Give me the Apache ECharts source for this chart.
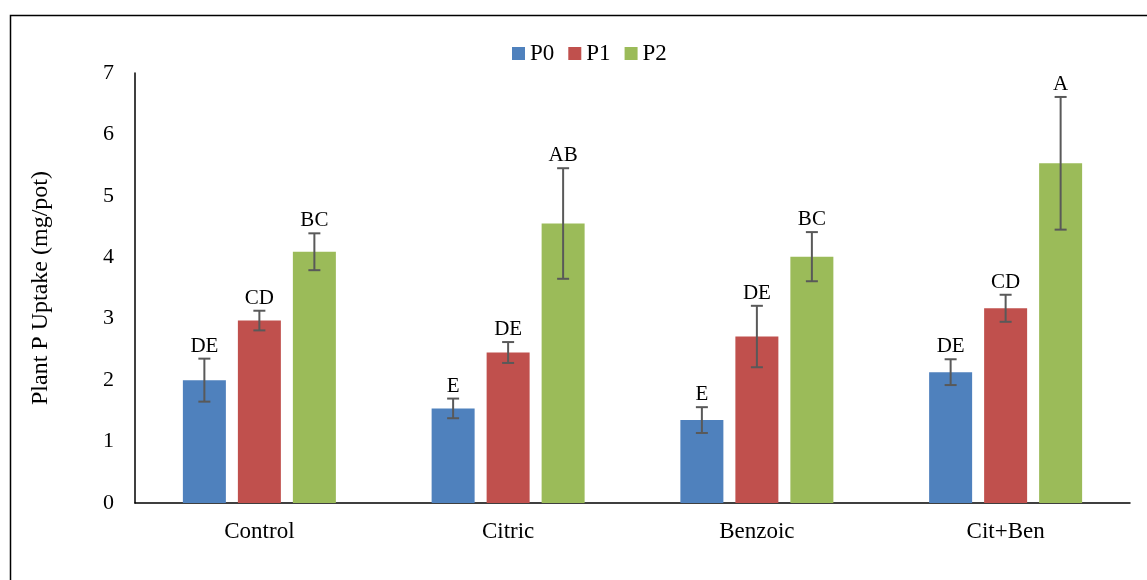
<!DOCTYPE html>
<html>
<head>
<meta charset="utf-8">
<script src="https://cdn.jsdelivr.net/npm/echarts@6/dist/echarts.min.js"></script>
<style>
  html, body { margin: 0; padding: 0; background: #fff; }
  #chart { width: 1147px; height: 580px; }
</style>
</head>
<body>
<div id="chart"></div>
<script>
// Plant P uptake by acid treatment and P level
const categories = ['Control', 'Citric', 'Benzoic', 'Cit+Ben'];
const seriesNames = ['P0', 'P1', 'P2'];
const p0 = [2.00, 1.54, 1.35, 2.13];
const p1 = [2.97, 2.45, 2.71, 3.17];
const p2 = [4.09, 4.55, 4.01, 5.53];
const p0Err = [0.35, 0.16, 0.21, 0.21];
const p1Err = [0.16, 0.17, 0.50, 0.22];
const p2Err = [0.30, 0.90, 0.40, 1.08];
const p0Letters = ['DE', 'E', 'E', 'DE'];
const p1Letters = ['CD', 'DE', 'DE', 'CD'];
const p2Letters = ['BC', 'AB', 'BC', 'A'];
const yTicks = [0, 1, 2, 3, 4, 5, 6, 7];

const colors = ['#4F81BD', '#C0504D', '#9BBB59'];
const values = [p0, p1, p2];
const errors = [p0Err, p1Err, p2Err];
const letters = [p0Letters, p1Letters, p2Letters];

const FONT = '"Liberation Serif", "Times New Roman", serif';
const BAR_W = 43;
const BAR_GAP = 12;

const barSeries = seriesNames.map((name, s) => ({
  name: name,
  type: 'bar',
  data: values[s],
  barWidth: BAR_W,
  barGap: (BAR_GAP / BAR_W * 100).toFixed(1) + '%',
  itemStyle: { color: colors[s] },
  z: 2
}));

// error bars with significance letters, drawn over each bar
const errSeries = seriesNames.map((name, s) => ({
  name: name + ' err',
  type: 'custom',
  z: 5,
  data: values[s].map((v, i) => [i, v, errors[s][i]]),
  renderItem: function (params, api) {
    const idx = api.value(0);
    const v = api.value(1);
    const e = api.value(2);
    const offset = (s - 1) * (BAR_W + BAR_GAP);
    const hi = api.coord([idx, v + e]);
    const lo = api.coord([idx, v - e]);
    const x = hi[0] + offset;
    const cap = 6;
    const style = { stroke: '#595959', lineWidth: 2 };
    return {
      type: 'group',
      children: [
        { type: 'line', shape: { x1: x, y1: hi[1], x2: x, y2: lo[1] }, style: style },
        { type: 'line', shape: { x1: x - cap, y1: hi[1], x2: x + cap, y2: hi[1] }, style: style },
        { type: 'line', shape: { x1: x - cap, y1: lo[1], x2: x + cap, y2: lo[1] }, style: style },
        {
          type: 'text',
          style: {
            text: letters[s][idx],
            x: x,
            y: hi[1] - 2,
            textAlign: 'center',
            textVerticalAlign: 'bottom',
            font: '21px ' + FONT,
            fill: '#000'
          }
        }
      ]
    };
  }
}));

const chart = echarts.init(document.getElementById('chart'), null, { renderer: 'canvas' });
chart.setOption({
  animation: false,
  backgroundColor: '#fff',
  textStyle: { fontFamily: FONT, color: '#000' },
  graphic: [{
    type: 'rect',
    shape: { x: 10.5, y: 15.5, width: 1160, height: 600 },
    style: { fill: 'none', stroke: '#000', lineWidth: 1.5 },
    silent: true
  }],
  legend: {
    data: seriesNames,
    top: 37,
    left: 507,
    itemWidth: 13,
    itemHeight: 13,
    itemGap: 14,
    icon: 'rect',
    textStyle: { fontFamily: FONT, fontSize: 23, color: '#000' }
  },
  grid: { left: 135, right: 17, top: 73, bottom: 77, containLabel: false },
  xAxis: {
    type: 'category',
    data: categories,
    axisLine: { lineStyle: { color: '#000', width: 1.5 } },
    axisTick: { show: false },
    axisLabel: { fontFamily: FONT, fontSize: 23, color: '#000', margin: 17 }
  },
  yAxis: {
    type: 'value',
    min: yTicks[0],
    max: yTicks[yTicks.length - 1],
    interval: 1,
    name: 'Plant P Uptake (mg/pot)',
    nameLocation: 'middle',
    nameGap: 82,
    nameTextStyle: { fontFamily: FONT, fontSize: 24, color: '#000' },
    axisLine: { show: true, lineStyle: { color: '#000', width: 1.5 } },
    axisTick: { show: false },
    splitLine: { show: false },
    axisLabel: { fontFamily: FONT, fontSize: 22, color: '#000', margin: 21 }
  },
  series: barSeries.concat(errSeries)
});
</script>
</body>
</html>
